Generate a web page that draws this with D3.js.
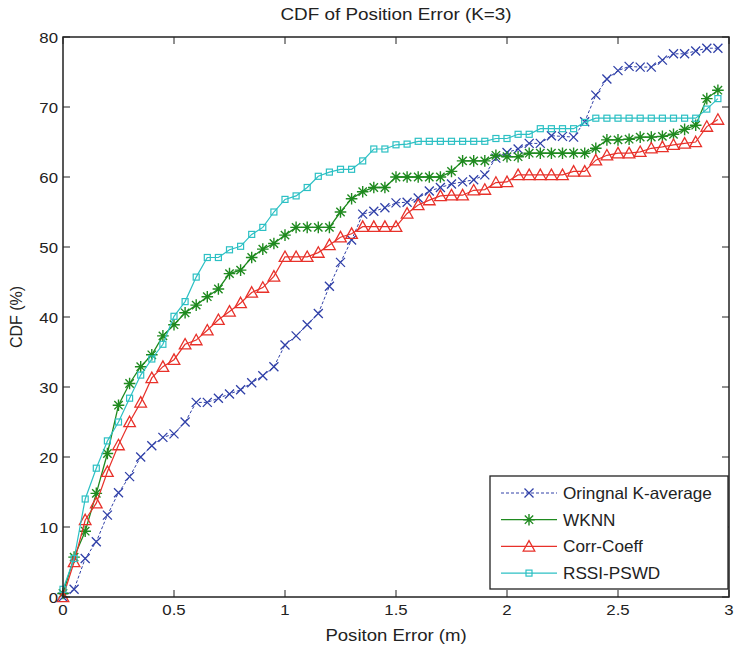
<!DOCTYPE html>
<html><head><meta charset="utf-8">
<script src="https://cdn.jsdelivr.net/npm/d3@7"></script>
<style>body{margin:0;background:#fff}svg{display:block}text{font-family:"Liberation Sans",Arial,sans-serif;fill:#222}</style>
</head><body><div id="chart"></div>
<script>
const xValues = d3.range(60).map(i => +(i*0.05).toFixed(2));
const seriesNames = ["Oringnal K-average","WKNN","Corr-Coeff","RSSI-PSWD"];
const originalK = [0,1.1,5.5,7.9,11.7,14.9,17.2,20.0,21.6,22.8,23.3,25.0,27.8,27.8,28.4,29.0,29.6,30.6,31.6,32.9,36.0,37.3,38.9,40.5,44.4,47.8,51.0,54.7,55.1,55.6,56.3,56.4,57.0,58.0,58.5,59.0,59.3,59.6,60.3,62.7,63.5,64.0,64.8,64.8,65.9,65.8,65.7,67.9,71.7,74.0,75.2,75.8,75.7,75.7,76.7,77.6,77.6,78.0,78.4,78.4];
const wknn = [0.5,5.7,9.4,14.8,20.5,27.4,30.5,32.9,34.6,37.3,38.9,40.6,41.7,42.9,44.0,46.2,46.7,48.5,49.7,50.5,51.7,52.8,52.8,52.8,52.8,55.0,56.9,57.9,58.5,58.5,60.0,60.0,60.0,60.0,60.0,60.8,62.3,62.3,62.3,63.1,62.9,62.9,63.4,63.4,63.4,63.4,63.4,63.4,64.1,65.3,65.3,65.4,65.7,65.7,65.8,66.1,66.8,67.4,71.2,72.4];
const corrCoeff = [0,5.0,11.0,13.4,17.9,21.7,25.0,27.8,31.3,32.9,33.9,36.1,36.7,38.1,39.6,40.8,42.0,43.5,44.2,45.8,48.6,48.6,48.6,49.2,50.3,51.4,51.9,52.9,52.9,52.9,52.9,54.8,56.0,56.7,57.3,57.4,57.4,58.1,58.2,59.2,59.3,60.3,60.3,60.3,60.3,60.3,60.8,60.8,62.4,63.1,63.4,63.4,63.6,64.1,64.3,64.6,64.8,65.0,67.2,68.2];
const rssiPswd = [1.1,5.5,14.0,18.4,22.3,25.0,28.4,31.7,34.0,36.1,40.1,42.2,45.7,48.5,48.5,49.6,50.1,51.8,52.8,55.0,56.8,57.3,58.5,60.1,60.7,61.1,61.1,62.3,64.0,64.0,64.6,64.7,65.1,65.1,65.1,65.1,65.1,65.1,65.1,65.5,65.5,66.1,66.1,66.9,66.9,66.9,66.9,67.8,68.4,68.4,68.4,68.4,68.4,68.4,68.4,68.4,68.4,68.4,69.7,71.2];
const xTicks = [0,0.5,1,1.5,2,2.5,3];
const yTicks = [0,10,20,30,40,50,60,70,80];
const titleText = "CDF of Position Error (K=3)";
const xLabel = "Positon Error (m)";
const yLabel = "CDF (%)";

const W = 735, H = 647;
const m = {left:63, right:6, top:37, bottom:50};
const svg = d3.select("#chart").append("svg").attr("width",W).attr("height",H);
const x = d3.scaleLinear().domain([0,3]).range([m.left, W-m.right]);
const y = d3.scaleLinear().domain([0,80]).range([H-m.bottom, m.top]);

const styles = [
  {data: originalK, color:"#3040a8", dash:"3,2", marker:"x", width:1},
  {data: wknn, color:"#1f8a1f", dash:null, marker:"star", width:1.3},
  {data: corrCoeff, color:"#e8312a", dash:null, marker:"tri", width:1.2},
  {data: rssiPswd, color:"#2cc0c4", dash:null, marker:"sq", width:1.2}
];

function stretchedText(g, tx, ty, str, size, sx, anchor){
  return g.append("text").attr("transform",`translate(${tx},${ty}) scale(${sx},1)`)
    .attr("text-anchor",anchor).attr("font-size",size).text(str);
}

function drawMarker(g, type, color, cx, cy){
  if(type==="x"){
    const s=4.5;
    g.append("path").attr("d",`M${cx-s},${cy-s}L${cx+s},${cy+s}M${cx-s},${cy+s}L${cx+s},${cy-s}`).attr("stroke",color).attr("stroke-width",1.3).attr("fill","none");
  } else if(type==="star"){
    const s=5.8, d=s*0.72;
    g.append("path").attr("d",`M${cx-s},${cy}L${cx+s},${cy}M${cx},${cy-s}L${cx},${cy+s}M${cx-d},${cy-d}L${cx+d},${cy+d}M${cx-d},${cy+d}L${cx+d},${cy-d}`).attr("stroke",color).attr("stroke-width",1.4).attr("fill","none");
  } else if(type==="tri"){
    const s=5.8;
    g.append("path").attr("d",`M${cx},${cy-s}L${cx+s},${cy+s*0.8}L${cx-s},${cy+s*0.8}Z`).attr("stroke",color).attr("stroke-width",1.3).attr("fill","none");
  } else if(type==="sq"){
    const s=3;
    g.append("rect").attr("x",cx-s).attr("y",cy-s).attr("width",2*s).attr("height",2*s).attr("stroke",color).attr("stroke-width",1.2).attr("fill","none");
  }
}

const plot = svg.append("g");
const line = d3.line().x((d,i)=>x(xValues[i])).y(d=>y(d));
styles.forEach(s=>{
  const p = plot.append("path").datum(s.data).attr("d",line).attr("fill","none").attr("stroke",s.color).attr("stroke-width",s.width);
  if(s.dash) p.attr("stroke-dasharray",s.dash);
  const mg = plot.append("g");
  s.data.forEach((v,i)=>drawMarker(mg, s.marker, s.color, x(xValues[i]), y(v)));
});

const tl = 7;
const ax = svg.append("g");
ax.append("rect").attr("x",x(0)).attr("y",y(80)).attr("width",x(3)-x(0)).attr("height",y(0)-y(80)).attr("fill","none").attr("stroke","#222").attr("stroke-width",1.5);
xTicks.forEach(t=>{
  ax.append("line").attr("x1",x(t)).attr("x2",x(t)).attr("y1",y(0)).attr("y2",y(0)-tl).attr("stroke","#222");
  ax.append("line").attr("x1",x(t)).attr("x2",x(t)).attr("y1",y(80)).attr("y2",y(80)+tl).attr("stroke","#222");
  stretchedText(ax, x(t), y(0)+18, d3.format("~g")(t), 15, 1.12, "middle");
});
yTicks.forEach(t=>{
  ax.append("line").attr("x1",x(0)).attr("x2",x(0)+tl).attr("y1",y(t)).attr("y2",y(t)).attr("stroke","#222");
  ax.append("line").attr("x1",x(3)).attr("x2",x(3)-tl).attr("y1",y(t)).attr("y2",y(t)).attr("stroke","#222");
  stretchedText(ax, x(0)-5, y(t)+5.5, String(t), 15, 1.12, "end");
});
stretchedText(svg, (x(0)+x(3))/2, 20, titleText, 16, 1.18, "middle");
stretchedText(svg, (x(0)+x(3))/2, 641, xLabel, 16, 1.16, "middle");
svg.append("text").attr("transform",`translate(22,${(y(0)+y(80))/2}) rotate(-90)`).attr("text-anchor","middle").attr("font-size",16).text(yLabel);

const lg = svg.append("g");
lg.append("rect").attr("x",490).attr("y",476).attr("width",238).attr("height",113).attr("fill","#fff").attr("stroke","#222").attr("stroke-width",1.3);
styles.forEach((s,i)=>{
  const ly = 493 + i*26.7;
  const l = lg.append("line").attr("x1",501).attr("x2",557).attr("y1",ly).attr("y2",ly).attr("stroke",s.color).attr("stroke-width",s.width);
  if(s.dash) l.attr("stroke-dasharray",s.dash);
  drawMarker(lg, s.marker, s.color, 529, ly);
  stretchedText(lg, 563, ly+6, seriesNames[i], 16.5, 1.04, "start");
});
</script></body></html>
